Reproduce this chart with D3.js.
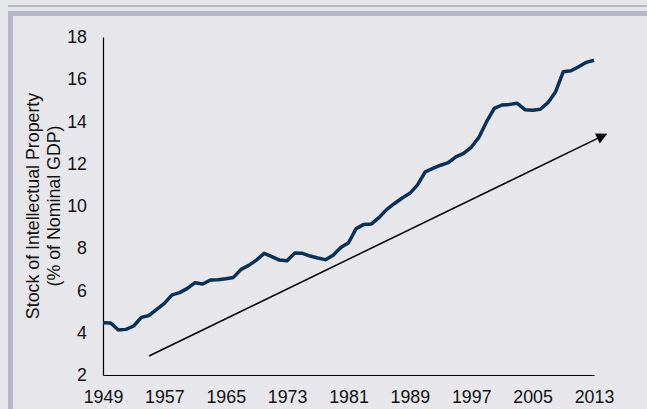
<!DOCTYPE html>
<html>
<head>
<meta charset="utf-8">
<script src="https://cdn.jsdelivr.net/npm/d3@7"></script>
<style>
  html, body { margin:0; padding:0; background:#e6e6eb; }
  #chart { width:647px; height:409px; }
  text { font-family:"Liberation Sans", Arial, sans-serif; fill:#111; }
</style>
</head>
<body>
<div id="chart"></div>
<script>
// data
var years = [1949,1950,1951,1952,1953,1954,1955,1956,1957,1958,1959,1960,1961,1962,1963,1964,
  1965,1966,1967,1968,1969,1970,1971,1972,1973,1974,1975,1976,1977,1978,1979,1980,1981,1982,
  1983,1984,1985,1986,1987,1988,1989,1990,1991,1992,1993,1994,1995,1996,1997,1998,1999,2000,
  2001,2002,2003,2004,2005,2006,2007,2008,2009,2010,2011,2012,2013];
var ipStock = [4.47,4.46,4.13,4.16,4.32,4.73,4.82,5.11,5.39,5.79,5.90,6.10,6.37,6.31,6.50,6.51,
  6.56,6.62,7.00,7.19,7.44,7.76,7.60,7.44,7.41,7.78,7.76,7.63,7.54,7.46,7.67,8.04,8.26,8.93,
  9.13,9.15,9.46,9.84,10.12,10.38,10.60,11.00,11.62,11.78,11.93,12.05,12.33,12.49,12.78,13.25,13.99,14.62,
  14.78,14.81,14.86,14.56,14.53,14.58,14.89,15.41,16.36,16.40,16.59,16.80,16.90];
var xTicks = [1949,1957,1965,1973,1981,1989,1997,2005,2013];
var yTicks = [2,4,6,8,10,12,14,16,18];
var trendYears = [1955, 2014.6];
var trendValues = [2.9, 13.4];
var titleLines = ["Stock of Intellectual Property", "(% of Nominal GDP)"];

var width = 647, height = 409;
var svg = d3.select("#chart").append("svg")
  .attr("width", width)
  .attr("height", height);

// frame bands
var band = "#b4b7c4";
svg.append("rect").attr("x",8).attr("y",5).attr("width",width-8).attr("height",2).attr("fill",band);
svg.append("rect").attr("x",8).attr("y",11).attr("width",width-8).attr("height",5).attr("fill",band);
svg.append("rect").attr("x",8).attr("y",11).attr("width",5).attr("height",height-11).attr("fill",band);

var x = d3.scaleLinear().domain([1949, 2013]).range([103, 594]);
var y = d3.scaleLinear().domain([2, 18]).range([375, 37]);

var yAxis = svg.append("g")
  .attr("transform","translate(103,0)")
  .call(d3.axisLeft(y).tickValues(yTicks).tickSize(0).tickSizeOuter(0).tickPadding(16));
var xAxis = svg.append("g")
  .attr("transform","translate(0,375)")
  .call(d3.axisBottom(x).tickValues(xTicks).tickFormat(d3.format("d")).tickSize(0).tickSizeOuter(0).tickPadding(15));

svg.selectAll(".domain").attr("stroke","#000").attr("stroke-width",1.2);
svg.selectAll(".tick text")
  .style("font-family","'Liberation Sans', Arial, sans-serif")
  .style("font-size","17.8px")
  .attr("fill","#111");

// y title
var title = svg.append("text")
  .attr("transform","translate(0,206) rotate(-90)")
  .attr("text-anchor","middle")
  .style("font-size","17.8px");
title.selectAll("tspan")
  .data(titleLines)
  .enter()
  .append("tspan")
  .attr("x",0)
  .attr("y",function(d,i){ return 39 + i*21; })
  .text(function(d){ return d; });

// arrowhead
svg.append("defs").append("marker")
  .attr("id","arrowHead")
  .attr("viewBox","0 0 10 10")
  .attr("refX",9).attr("refY",5)
  .attr("markerWidth",12).attr("markerHeight",11)
  .attr("markerUnits","userSpaceOnUse")
  .attr("orient","auto")
  .append("path")
  .attr("d","M0,0 L10,5 L0,10 Z")
  .attr("fill","#000");

svg.append("line")
  .attr("x1",x(trendYears[0])).attr("y1",y(trendValues[0]))
  .attr("x2",x(trendYears[1])).attr("y2",y(trendValues[1]))
  .attr("stroke","#000")
  .attr("stroke-width",1.5)
  .attr("marker-end","url(#arrowHead)");

var line = d3.line()
  .x(function(d,i){ return x(years[i]); })
  .y(function(d){ return y(d); });

svg.append("path")
  .datum(ipStock)
  .attr("d",line)
  .attr("fill","none")
  .attr("stroke","#0b3156")
  .attr("stroke-width",3.5)
  .attr("stroke-linejoin","round");
</script>
</body>
</html>
